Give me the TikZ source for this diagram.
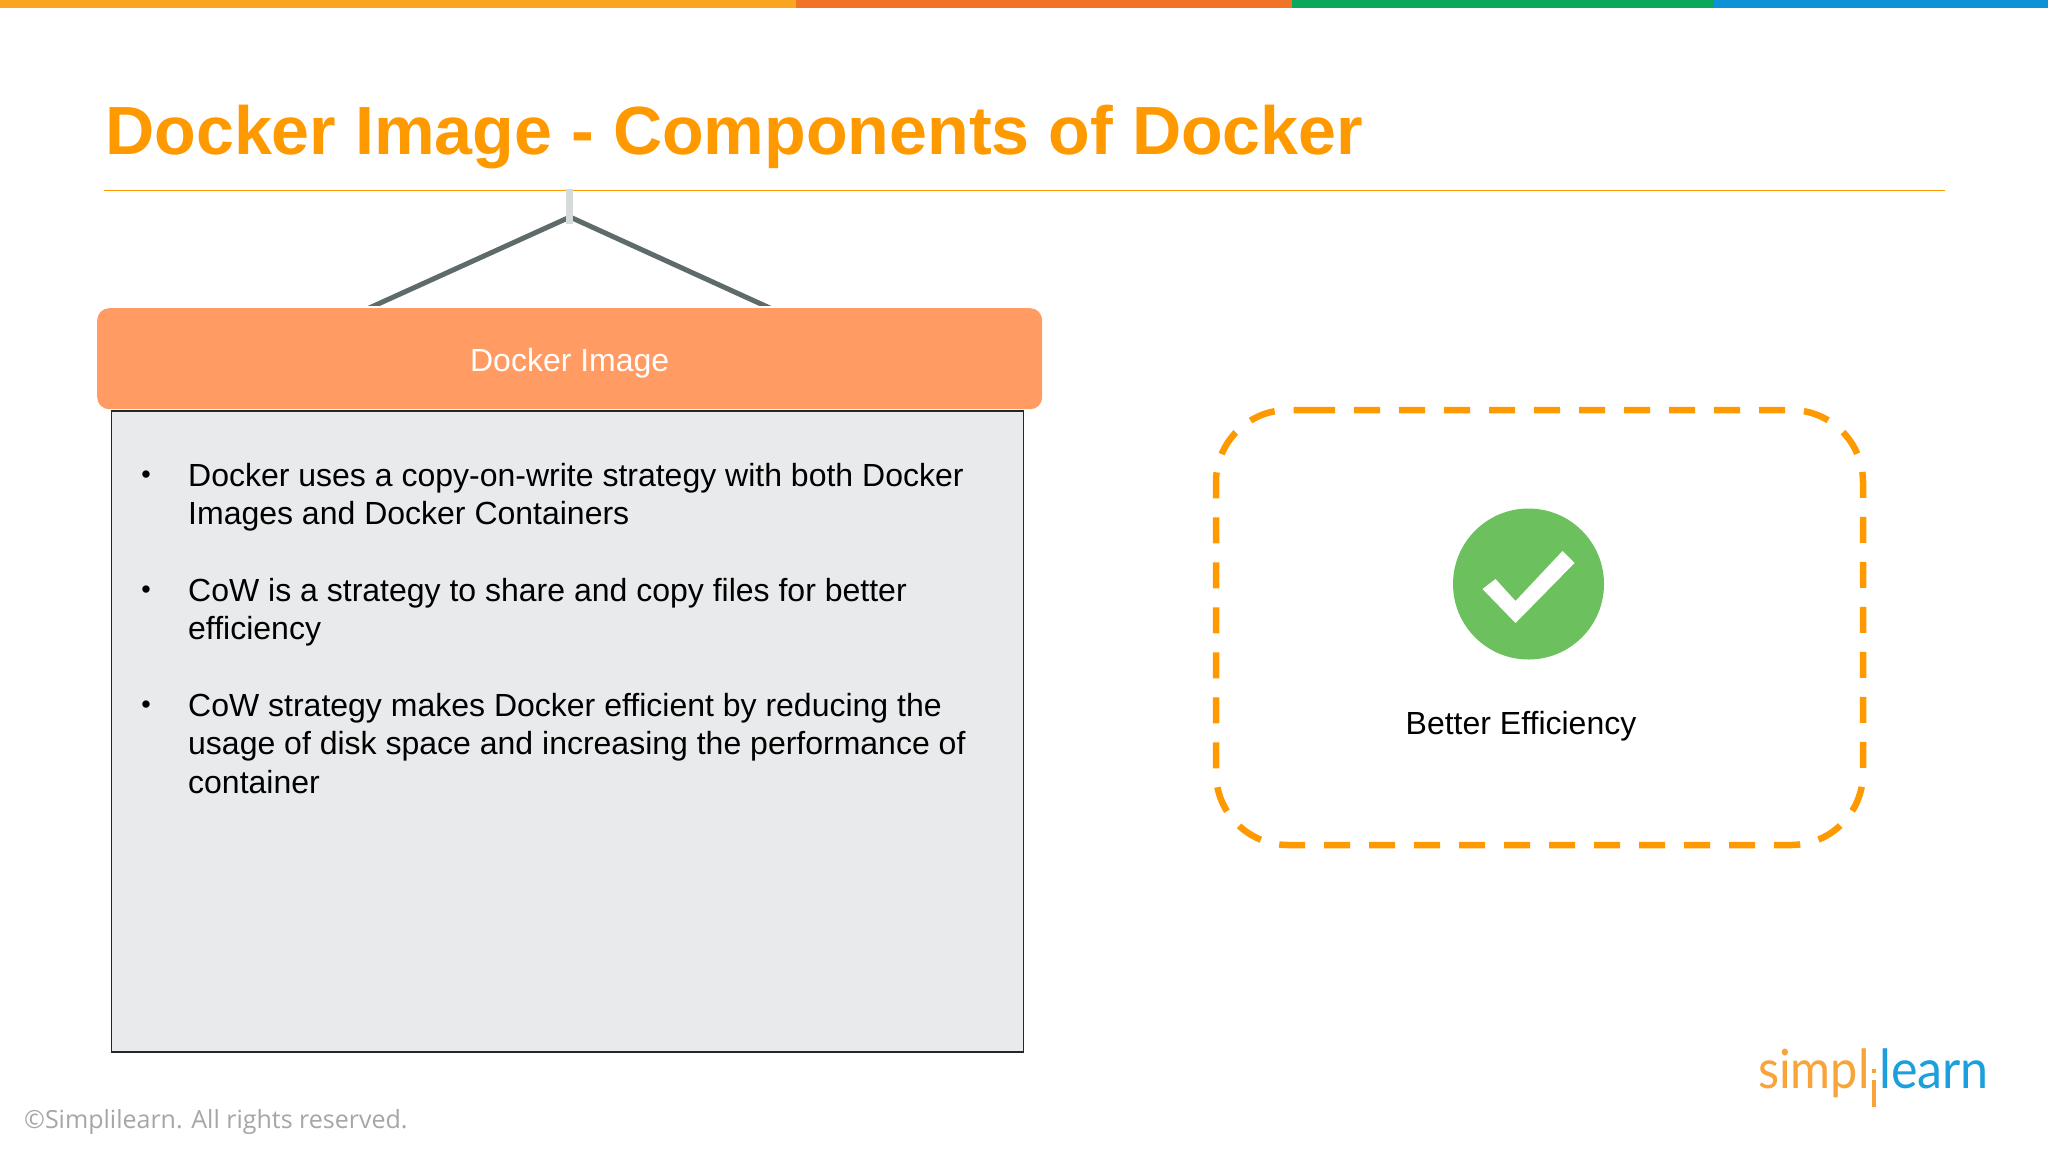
\documentclass[tikz,border=0pt]{standalone}
\usepackage{fontspec}
\setmainfont{Liberation Sans}
\newfontfamily\opensans{Open Sans}
\newfontfamily\logofont{Lato}
\definecolor{titleor}{HTML}{FF9900}
\definecolor{boxor}{HTML}{FF9B63}
\definecolor{panel}{HTML}{E9EAEB}
\definecolor{hang}{HTML}{5F6B6B}
\definecolor{post}{HTML}{D5DADB}
\definecolor{okgreen}{HTML}{6CC05D}
\definecolor{logoor}{HTML}{F9A43A}
\definecolor{logobl}{HTML}{1C9FDC}
\definecolor{bandA}{HTML}{F9A51F}
\definecolor{bandB}{HTML}{F17327}
\definecolor{bandC}{HTML}{0AA85A}
\definecolor{bandD}{HTML}{0E91D6}
\tikzset{
  bulleted/.style={anchor=north west,align=left,inner sep=0pt,font=\fontsize{32}{38.4}\selectfont},
  bulletdot/.style={anchor=base,inner sep=0pt,font=\fontsize{27}{30}\selectfont},
  hangline/.style={draw=hang,line width=5pt},
  logotext/.style={anchor=base west,inner sep=0pt,font=\logofont\fontsize{54}{60}\selectfont},
}
\begin{document}
\begin{tikzpicture}[x=1pt,y=-1pt]
\useasboundingbox (0,0) rectangle (2048,1152);
\fill[white] (0,0) rectangle (2048,1152);
% top band
\fill[bandA] (0,0) rectangle (796,8);
\fill[bandB] (796,0) rectangle (1292,8);
\fill[bandC] (1292,0) rectangle (1714,8);
\fill[bandD] (1714,0) rectangle (2048,8);
% title
\node[anchor=base west,inner sep=0pt,text=titleor,font=\fontsize{68.2}{80}\selectfont\bfseries] (title) at (105,154) {Docker Image - Components of Docker};
\coordinate (ruleL) at (104,190.5);
\coordinate (ruleR) at (1945,190.5);
\draw[titleor,line width=1.8pt] (ruleL) -- (ruleR);
% hanger
\coordinate (apex) at (570,217);
\coordinate (footL) at (367,309);
\coordinate (footR) at (772,309);
\begin{scope}
\clip (300,200) rectangle (840,305.5);
\draw[hangline] (footL) -- (apex) -- (footR);
\end{scope}
\fill[post] (566,189) rectangle (573,224);
% panel
\node[draw=black!85,fill=panel,line width=1.5pt,outer sep=0pt,minimum width=912pt,minimum height=641pt,inner sep=0pt,anchor=north west] (panel) at (111.5,411) {};
\node[fill=boxor,rounded corners=12pt,minimum width=945pt,minimum height=101pt,inner sep=0pt,anchor=north west] (head) at (97,308) {};
\node[text=white,inner sep=0pt,font=\fontsize{32}{38}\selectfont,yshift=-4.5pt] (headtext) at (head.center) {Docker Image};
% bullets
\node[bulletdot] (d1) at (146,483) {•};
\node[bulleted] (b1) at (188,463) {Docker uses a copy-on-write strategy with both Docker\\Images and Docker Containers};
\node[bulletdot] (d2) at (146,598) {•};
\node[bulleted] (b2) at (188,578) {CoW is a strategy to share and copy files for better\\efficiency};
\node[bulletdot] (d3) at (146,713) {•};
\node[bulleted] (b3) at (188,693) {CoW strategy makes Docker efficient by reducing the\\usage of disk space and increasing the performance of\\container};
% dashed box, clockwise from the first full dash of the top edge
\draw[titleor,line width=6.5pt,dash pattern=on 26pt off 19pt,rounded corners=72pt] (1309,410) -- (1863,410) -- (1863,845) -- (1216,845) -- (1216,410) -- (1309,410);
\node[circle,fill=okgreen,minimum size=151pt,inner sep=0pt] (ok) at (1528.5,584) {};
\fill[white] ([shift={(-46,5)}]ok.center) -- ++(13,-10) -- ++(20,22) -- ++(47,-50) -- ++(12,12) -- ++(-59,60) -- cycle;
\node[anchor=base,inner sep=0pt,font=\fontsize{32}{38}\selectfont] (better) at (1521,734) {Better Efficiency};
% footer
\node[anchor=base west,inner sep=0pt,text=black!35,font=\opensans\fontsize{25}{30}\selectfont] (copy) at (24,1128) {©Simplilearn. All rights reserved.};
% logo
\node[logotext,text=logoor] (lg1) at (1758,1088) {\scalebox{.9}[1]{simpl}};
\fill[logoor] (1872,1080) rectangle (1876,1107);
\fill[logoor] (1872,1069) rectangle (1876,1073);
\node[logotext,text=logobl] (lg2) at (1879,1088) {\scalebox{.93}[1]{learn}};
\end{tikzpicture}
\end{document}
